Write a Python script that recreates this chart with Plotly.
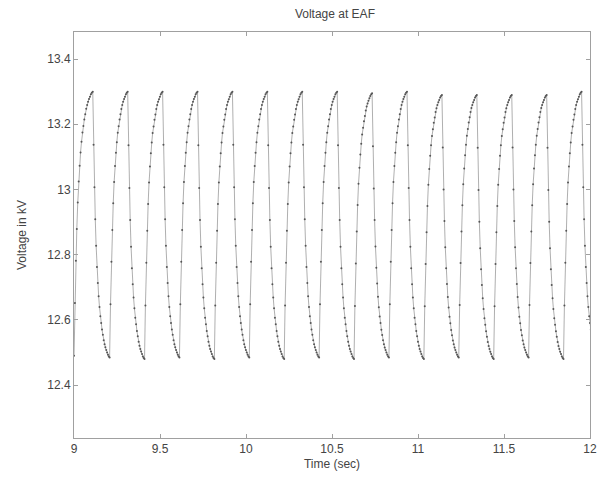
import plotly.graph_objects as go

# Times (s) and values (kV) of the waveform extremes
trough_times = [9.000, 9.207, 9.410, 9.613, 9.816, 10.019, 10.222, 10.425,
                10.628, 10.831, 11.034, 11.237, 11.440, 11.643, 11.846, 12.049]
trough_vals = [12.49, 12.485, 12.48, 12.485, 12.48, 12.485, 12.48, 12.485,
               12.48, 12.485, 12.48, 12.485, 12.48, 12.485, 12.48, 12.485]
peak_times = [9.109, 9.312, 9.515, 9.718, 9.921, 10.124, 10.327, 10.530,
              10.733, 10.936, 11.139, 11.342, 11.545, 11.748, 11.951]
peak_vals = [13.30, 13.30, 13.30, 13.30, 13.30, 13.30, 13.30, 13.30,
             13.295, 13.30, 13.29, 13.29, 13.29, 13.29, 13.30]

# Shape of each transition (fraction of segment time -> fraction of swing)
seg_pos = [0.0, 0.05, 0.1, 0.15, 0.2, 0.25, 0.3, 0.35, 0.4, 0.45, 0.5, 0.55,
           0.6, 0.65, 0.7, 0.75, 0.8, 0.85, 0.9, 0.95, 1.0]
seg_frac = [0.0, 0.2, 0.36, 0.48, 0.58, 0.66, 0.72, 0.77, 0.81, 0.845, 0.87, 0.895,
            0.915, 0.935, 0.95, 0.962, 0.972, 0.981, 0.99, 0.996, 1.0]

x_ticks = [9, 9.5, 10, 10.5, 11, 11.5, 12]
y_ticks = [12.4, 12.6, 12.8, 13, 13.2, 13.4]

t, v = [], []
for i in range(len(peak_times)):
    t0, v0 = trough_times[i], trough_vals[i]
    t1, v1 = peak_times[i], peak_vals[i]
    for p, f in zip(seg_pos[:-1], seg_frac[:-1]):
        t.append(t0 + p * (t1 - t0)); v.append(v0 + f * (v1 - v0))
    t2, v2 = trough_times[i + 1], trough_vals[i + 1]
    for p, f in zip(seg_pos[:-1], seg_frac[:-1]):
        t.append(t1 + p * (t2 - t1)); v.append(v1 + f * (v2 - v1))
t.append(trough_times[-1]); v.append(trough_vals[-1])

FONT = "Liberation Sans, Arial"
fig = go.Figure()
fig.add_trace(go.Scatter(x=t, y=v, mode="lines+markers",
                         line=dict(color="#9a9a9a", width=0.8),
                         marker=dict(size=2, color="#555555"),
                         showlegend=False))

axis_common = dict(showgrid=False, zeroline=False, showline=True, mirror="ticks",
                   linecolor="#a0a0a0", linewidth=1, ticks="inside", ticklen=4,
                   tickcolor="#a0a0a0",
                   tickfont=dict(family=FONT, size=12, color="#444444"))

fig.update_layout(
    width=609, height=481,
    margin=dict(l=74, r=12, t=32, b=42),
    paper_bgcolor="white", plot_bgcolor="white",
    title=dict(text="Voltage at EAF", x=0.55, xanchor="center", y=0.972, yanchor="middle",
               font=dict(family=FONT, size=12, color="#444444")),
    xaxis=dict(range=[9, 12], tickvals=x_ticks, ticktext=[str(x) for x in x_ticks],
               title=dict(text="Time (sec)", standoff=4,
                          font=dict(family=FONT, size=12, color="#444444")),
               **axis_common),
    yaxis=dict(range=[12.238, 13.483], tickvals=y_ticks, ticktext=[str(y) for y in y_ticks],
               title=dict(text="Voltage in kV", standoff=18,
                          font=dict(family=FONT, size=12, color="#444444")),
               **axis_common),
)

fig.write_html("out.html")
